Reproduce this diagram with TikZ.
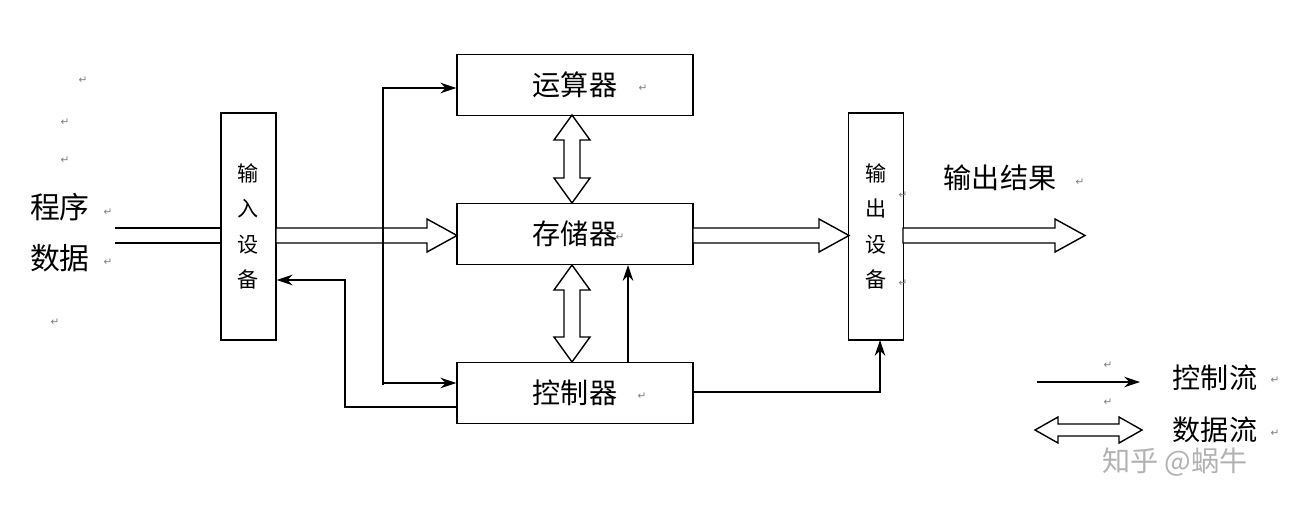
\documentclass[tikz,border=0pt]{standalone}
\usepackage{fontspec}
\newfontfamily\cjk{Noto Sans CJK SC}
\newfontfamily\djv{DejaVu Sans}
\usetikzlibrary{arrows.meta,calc}
\begin{document}
\begin{tikzpicture}[x=0.02cm,y=-0.02cm,
  box/.style={draw,thick,minimum width=236*0.02cm,minimum height=61*0.02cm,font=\cjk\fontsize{16}{18}\selectfont,inner sep=0},
  vbox/.style={draw,thick,minimum width=55*0.02cm,minimum height=227*0.02cm,font=\cjk\fontsize{12}{20}\selectfont,align=center,inner sep=0},
  lbl/.style={font=\cjk\fontsize{16}{18}\selectfont,inner sep=0},
  ctl/.style={thick,-{Stealth[length=9pt,width=6pt]}},
  fat/.style={thick,fill=white},
  pmark/.style={font=\djv\fontsize{6}{6}\selectfont,text=gray}]
\useasboundingbox (0,0) rectangle (1313,515);
\node[box] (alu) at (575,85) {运算器};
\node[box] (mem) at (575,234) {存储器};
\node[box] (cu) at (575,393) {控制器};
\node[vbox] (in) at (248.5,226.5) {输\\入\\设\\备};
\node[vbox] (out) at (876,226.5) {输\\出\\设\\备};
\node[lbl,font=\cjk\fontsize{17}{18}\selectfont] (prog) at (60,207) {程序};
\node[lbl,font=\cjk\fontsize{17}{18}\selectfont] (data) at (60,258) {数据};
\node[lbl] (res) at (1000,178) {输出结果};
\node[lbl] (l1) at (1215,378) {控制流};
\node[lbl] (l2) at (1215,430) {数据流};
\node[font=\cjk\fontsize{16}{18}\selectfont,text=gray!60] (wm) at (1175,462) {知乎 @蜗牛};
% paragraph marks
\foreach \p in {(83,80),(65,122),(65,160),(108,212),(108,262),(55,322),(643,88),(620,237),(642,396),(1080,182),(1108,365),(1108,402),(1275,380),(1275,433),(903,195),(903,283)}
  \node[pmark] at \p {↵};
% input double lines
\draw[thick] (115,228) -- (in.west |- 0,228);
\draw[thick] (115,243) -- (in.west |- 0,243);
% fat arrows
\draw[fat] (276,228) -- (427,228) -- (427,219) -- (457,235.5) -- (427,252) -- (427,243) -- (276,243) -- cycle;
\draw[fat] (693,228) -- (819,228) -- (819,219) -- (849,235.5) -- (819,252) -- (819,243) -- (693,243) -- cycle;
\draw[fat] (903,228) -- (1055,228) -- (1055,219) -- (1085,235.5) -- (1055,252) -- (1055,243) -- (903,243) -- cycle;
% vertical double arrows
\foreach \a/\b in {115/203,265/362}{
  \draw[fat] (564,\a+25) -- (554,\a+25) -- (572,\a) -- (590,\a+25) -- (580,\a+25) -- (580,\b-25) -- (590,\b-25) -- (572,\b) -- (554,\b-25) -- (564,\b-25) -- cycle;}
% control lines
\draw[ctl] (383,385) -- (383,88) -- (alu.west |- 0,88);
\draw[ctl] (383,383) -- (cu.west |- 0,383);
\draw[ctl] (cu.west |- 0,407) -- (345,407) -- (345,280) -- (in.east |- 0,280);
\draw[ctl] (628,362) -- (628,265);
\draw[ctl] (cu.east |- 0,392) -- (880,392) -- (880,340);
% legend
\draw[ctl] (1037,382) -- (1140,382);
\draw[fat] (1035,430) -- (1058,417) -- (1058,424) -- (1119,424) -- (1119,417) -- (1142,430) -- (1119,443) -- (1119,436) -- (1058,436) -- (1058,443) -- cycle;
\end{tikzpicture}
\end{document}
